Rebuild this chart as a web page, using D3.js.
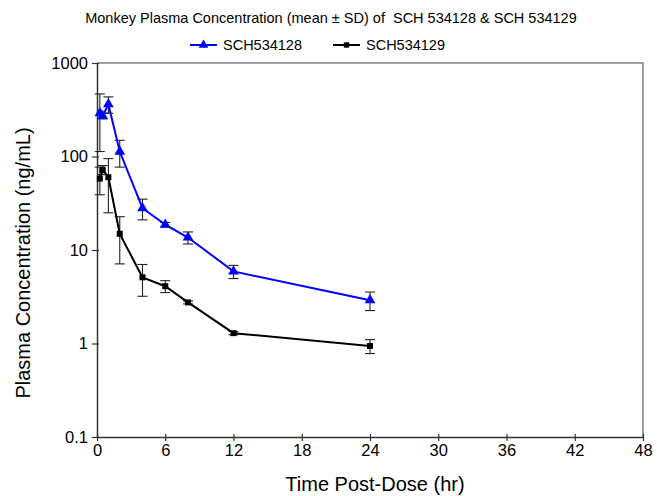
<!DOCTYPE html>
<html>
<head>
<meta charset="utf-8">
<script src="https://cdn.jsdelivr.net/npm/d3@7"></script>
<style>
  body { margin: 0; background: #fff; }
  svg text { font-family: "Liberation Sans", Arial, sans-serif; fill: #000; }
</style>
</head>
<body>
<div id="chart"></div>
<script>
// data
const times = [0.25, 0.5, 1, 2, 4, 6, 8, 12, 24];
const sch128Mean = [290, 272, 362, 113, 28, 18.7, 13.6, 5.9, 2.9];
const sch128SD = [177, 20, 72, 36, 7, 1, 2, 0.95, 0.65];
const sch129Mean = [58, 72, 60, 14.9, 5.1, 4.1, 2.75, 1.29, 0.94];
const sch129SD = [19, 8, 35, 7.8, 1.9, 0.6, 0.1, 0.05, 0.16];
const xTicks = [0, 6, 12, 18, 24, 30, 36, 42, 48];
const yTicks = [0.1, 1, 10, 100, 1000];
const yTickLabels = ["0.1", "1", "10", "100", "1000"];

const W = 657, H = 496;
const MARGIN = { top: 63, right: 14, bottom: 59, left: 97 };
const width = W - MARGIN.left - MARGIN.right;
const height = H - MARGIN.top - MARGIN.bottom;

const svg = d3.select("#chart").append("svg")
  .attr("width", W)
  .attr("height", H);

const x = d3.scaleLinear().domain([0, 48]).range([0, width]);
const y = d3.scaleLog().domain([0.1, 1000]).range([height, 0]);

const g = svg.append("g")
  .attr("transform", "translate(" + MARGIN.left + "," + MARGIN.top + ")");

// frame: top and right in grey
g.append("path")
  .attr("d", `M0,${y(1000)}H${x(48)}V${y(0.1)}`)
  .attr("fill", "none")
  .attr("stroke", "#808080")
  .attr("stroke-width", 1.5);

// x axis
const xAxis = g.append("g")
  .attr("transform", "translate(0," + height + ")")
  .call(d3.axisBottom(x).tickValues(xTicks).tickSize(4).tickSizeOuter(0).tickPadding(3));
xAxis.selectAll(".tick line").attr("y1", -3);
xAxis.selectAll("text").style("font-size", "16.5px");

// y axis
const yAxis = g.append("g")
  .call(d3.axisLeft(y).tickValues(yTicks).tickFormat((d, i) => yTickLabels[i])
    .tickSize(5).tickSizeOuter(0).tickPadding(4));
yAxis.selectAll(".tick line").attr("x1", 2);
yAxis.selectAll("text").style("font-size", "16.5px");

[xAxis, yAxis].forEach(a => {
  a.select(".domain").attr("stroke", "#333").attr("stroke-width", 1.5);
  a.selectAll(".tick line").attr("stroke", "#333").attr("stroke-width", 1.2);
});

const series = [
  { name: "SCH534128", mean: sch128Mean, sd: sch128SD, color: "#0000ff", marker: d3.symbolTriangle, size: 50 },
  { name: "SCH534129", mean: sch129Mean, sd: sch129SD, color: "#000000", marker: d3.symbolSquare, size: 36 }
];

const line = d3.line().x(d => x(d.t)).y(d => y(d.m));

series.forEach(s => {
  const pts = times.map((t, i) => ({ t, m: s.mean[i], sd: s.sd[i] }));

  // error bars
  const eb = g.append("g").attr("stroke", "#222").attr("stroke-width", 1.1);
  pts.forEach(p => {
    const hi = y(p.m + p.sd), lo = y(p.m - p.sd), cx = x(p.t);
    eb.append("line").attr("x1", cx).attr("x2", cx).attr("y1", hi).attr("y2", lo);
    eb.append("line").attr("x1", cx - 5).attr("x2", cx + 5).attr("y1", hi).attr("y2", hi);
    eb.append("line").attr("x1", cx - 5).attr("x2", cx + 5).attr("y1", lo).attr("y2", lo);
  });

  g.append("path")
    .datum(pts)
    .attr("fill", "none")
    .attr("stroke", s.color)
    .attr("stroke-width", 2)
    .attr("d", line);

  g.selectAll(null)
    .data(pts)
    .join("path")
    .attr("transform", d => `translate(${x(d.t)},${y(d.m)})`)
    .attr("d", d3.symbol(s.marker, s.size))
    .attr("fill", s.color);
});

// title
svg.append("text")
  .attr("x", 331).attr("y", 23)
  .attr("text-anchor", "middle")
  .style("font-size", "14.5px")
  .style("white-space", "pre")
  .text("Monkey Plasma Concentration (mean \u00b1 SD) of  SCH 534128 & SCH 534129");

// legend
const legendItems = [
  { s: series[0], x0: 190 },
  { s: series[1], x0: 333 }
];
legendItems.forEach(({ s, x0 }) => {
  const ly = 45;
  svg.append("line")
    .attr("x1", x0).attr("x2", x0 + 27)
    .attr("y1", ly).attr("y2", ly)
    .attr("stroke", s.color).attr("stroke-width", 2);
  svg.append("path")
    .attr("transform", `translate(${x0 + 13.5},${ly})`)
    .attr("d", d3.symbol(s.marker, s.size * 0.8))
    .attr("fill", s.color);
  svg.append("text")
    .attr("x", x0 + 33).attr("y", ly + 5)
    .style("font-size", "14.5px")
    .text(s.name);
});

// axis titles
svg.append("text")
  .attr("x", 375).attr("y", 491)
  .attr("text-anchor", "middle")
  .style("font-size", "20px")
  .text("Time Post-Dose (hr)");

svg.append("text")
  .attr("transform", "translate(30,263) rotate(-90)")
  .attr("text-anchor", "middle")
  .style("font-size", "20px")
  .text("Plasma Concentration (ng/mL)");
</script>
</body>
</html>
